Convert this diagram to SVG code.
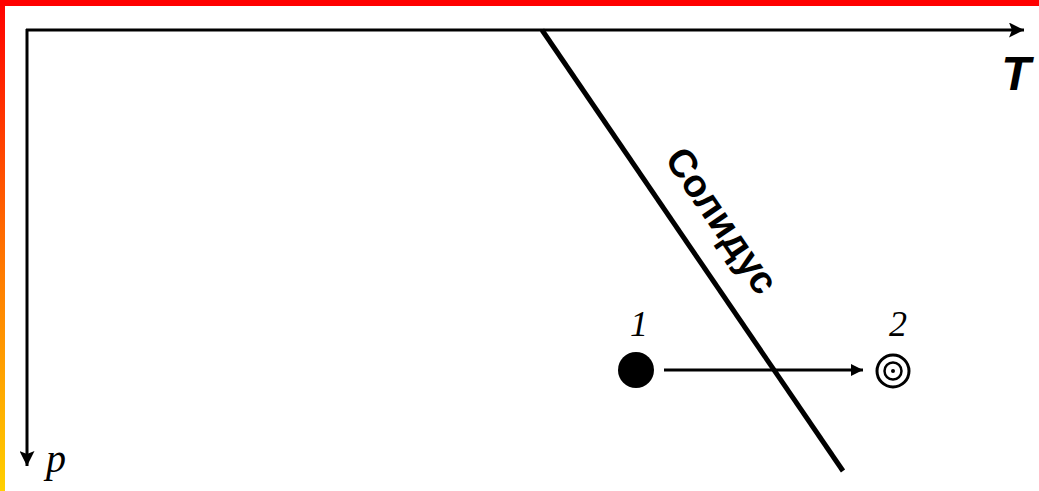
<svg xmlns="http://www.w3.org/2000/svg" width="1039" height="491" viewBox="0 0 1039 491">
  <defs>
    <linearGradient id="lg" x1="0" y1="0" x2="0" y2="1">
      <stop offset="0" stop-color="#ff0000"/>
      <stop offset="0.5" stop-color="#ff7000"/>
      <stop offset="1" stop-color="#ffd000"/>
    </linearGradient>
    <marker id="ah" viewBox="0 0 10 10" refX="10" refY="5" markerWidth="8" markerHeight="5" markerUnits="strokeWidth" orient="auto">
      <path d="M0,0 L10,5 L0,10 L2,5 Z" fill="#000"/>
    </marker>
    <marker id="ah2" viewBox="0 0 10 10" refX="10" refY="5" markerWidth="11" markerHeight="4" markerUnits="strokeWidth" orient="auto">
      <path d="M0,0 L10,5 L0,10 Z" fill="#000"/>
    </marker>
  </defs>
  <style>
    .ax { stroke:#000; stroke-width:3; fill:none; }
    .lbl { font-family:"Liberation Serif", serif; font-style:italic; fill:#000; }
  </style>
  <rect x="0" y="0" width="1039" height="491" fill="#fff"/>
  <rect x="0" y="0" width="5" height="491" fill="url(#lg)"/>
  <rect x="0" y="0" width="1039" height="6" fill="#ff0000"/>

  <g id="connectors">
    <path id="axis-T" class="ax" d="M26,30 H1024" marker-end="url(#ah)"/>
    <path id="axis-p" class="ax" d="M27,29 V466" marker-end="url(#ah)"/>
    <path id="solidus" d="M542,30 L843,471" stroke="#000" stroke-width="5" fill="none"/>
    <path id="transition" d="M664,370 H863" stroke="#000" stroke-width="3" fill="none" marker-end="url(#ah2)"/>
  </g>

  <g id="label-T"><text x="1016" y="90" text-anchor="middle" font-family="Liberation Sans, sans-serif" font-weight="bold" font-style="italic" font-size="48">T</text></g>
  <g id="label-p"><text x="56" y="472" text-anchor="middle" class="lbl" font-size="40">p</text></g>
  <g id="label-solidus"><text transform="translate(711,228) rotate(55.6)" text-anchor="middle" font-family="Liberation Sans, sans-serif" font-weight="bold" font-size="39">Солидус</text></g>

  <g id="node-1">
    <circle cx="636" cy="370" r="18" fill="#000"/>
    <text x="639" y="336" text-anchor="middle" class="lbl" font-size="36">1</text>
  </g>
  <g id="node-2">
    <circle cx="893" cy="371" r="16" fill="none" stroke="#000" stroke-width="3"/>
    <circle cx="893" cy="371" r="8.5" fill="none" stroke="#000" stroke-width="2.5"/>
    <circle cx="893" cy="371" r="2" fill="#000"/>
    <text x="898" y="336" text-anchor="middle" class="lbl" font-size="36">2</text>
  </g>
</svg>
